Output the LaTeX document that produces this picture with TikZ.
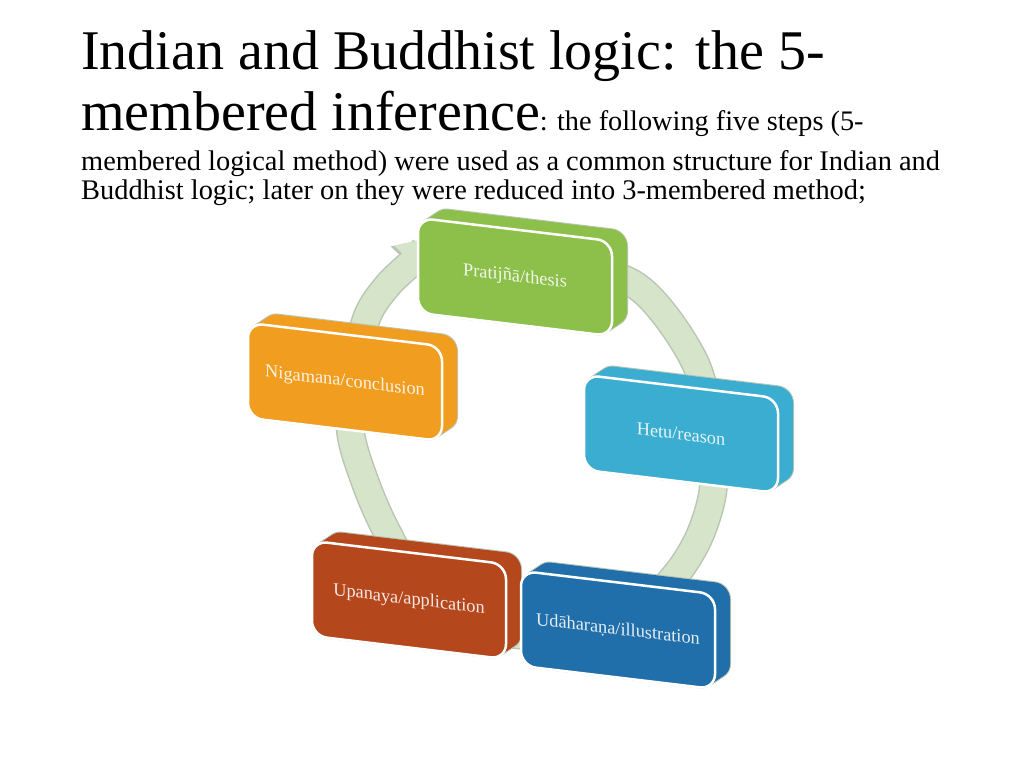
\documentclass[tikz,border=0pt]{standalone}
\usepackage{fontspec}
\setmainfont{Liberation Serif}
\usetikzlibrary{arrows.meta}

\definecolor{ringfill}{RGB}{214,228,202}
\definecolor{ringline}{RGB}{186,198,180}
\definecolor{thesisgreen}{RGB}{140,192,75}
\definecolor{reasonblue}{RGB}{58,173,208}
\definecolor{illusblue}{RGB}{32,111,171}
\definecolor{applyred}{RGB}{181,71,29}
\definecolor{concorange}{RGB}{241,157,31}

\begin{document}
\begin{tikzpicture}[x=1pt,y=-1pt,
  slab/.style={rectangle,rounded corners=15pt,minimum width=194pt,minimum height=95pt,inner sep=0pt,yslant=-0.12},
  slabrim/.style={slab,fill=#1,draw=ringline,line width=2pt},
  slabbody/.style={slab,fill=#1},
  slabface/.style={slab,fill=#1,draw=white,line width=2.5pt,text=white,text opacity=0.88,font=\fontsize{18.3}{20}\selectfont},
  headline/.style={anchor=base west,inner sep=0pt}]

\fill[white] (0,0) rectangle (1024,768);
\useasboundingbox (0,0) rectangle (1024,768);

% Titulo
\node[headline,font=\fontsize{56}{60}\selectfont] (title1) at (81,70) {Indian and Buddhist logic: the 5-};
\node[headline] (title2) at (81,130) {{\fontsize{56}{60}\selectfont membered inference}{\fontsize{28.3}{30}\selectfont: the following five steps (5-}};
\node[headline,font=\fontsize{28.4}{30}\selectfont] (body1) at (81,170) {membered logical method) were used as a common structure for Indian and};
\node[headline,font=\fontsize{28.4}{30}\selectfont] (body2) at (81,199) {Buddhist logic; later on they were reduced into 3-membered method;};

% Anel com seta
\draw[ringline,line width=29pt,-{Triangle[width=53pt,length=38pt,line width=0pt]}]
  plot[smooth] coordinates {(560,258) (630,282) (665,315) (697,367) (712,430) (713,490) (700,535) (678,572)
  (640,610) (580,630) (520,635) (460,620) (415,580) (386,530) (367,487) (351,435) (352,380) (367,317)
  (388,285) (412,262) (436,237)};
\draw[ringfill,line width=26pt,-{Triangle[width=49pt,length=35pt,line width=0pt]}]
  plot[smooth] coordinates {(560,258) (630,282) (665,315) (697,367) (712,430) (713,490) (700,535) (678,572)
  (640,610) (580,630) (520,635) (460,620) (415,580) (386,530) (367,487) (351,435) (352,380) (367,317)
  (388,285) (412,262) (436,237)};

% Nigamana/conclusion
\foreach \k in {0,...,10} \node[xshift=\k*1.5pt,yshift=\k*1pt,slabrim=concorange] at (345,382) {};
\foreach \k in {10,...,0} \node[xshift=\k*1.5pt,yshift=\k*1pt,slabbody=concorange] at (345,382) {};
\node[slabface=concorange] (conclusion) at (345,382) {Nigamana/conclusion};

% Pratijna/thesis
\foreach \k in {0,...,10} \node[xshift=\k*1.5pt,yshift=\k*1pt,slabrim=thesisgreen] at (515,277) {};
\foreach \k in {10,...,0} \node[xshift=\k*1.5pt,yshift=\k*1pt,slabbody=thesisgreen] at (515,277) {};
\node[slabface=thesisgreen] (thesis) at (515,277) {Pratijñā/thesis};

% Hetu/reason
\foreach \k in {0,...,10} \node[xshift=\k*1.5pt,yshift=\k*1pt,slabrim=reasonblue] at (681,434) {};
\foreach \k in {10,...,0} \node[xshift=\k*1.5pt,yshift=\k*1pt,slabbody=reasonblue] at (681,434) {};
\node[slabface=reasonblue] (reason) at (681,434) {Hetu/reason};

% Upanaya/application
\foreach \k in {0,...,10} \node[xshift=\k*1.5pt,yshift=\k*1pt,slabrim=applyred] at (409,600) {};
\foreach \k in {10,...,0} \node[xshift=\k*1.5pt,yshift=\k*1pt,slabbody=applyred] at (409,600) {};
\node[slabface=applyred] (application) at (409,600) {Upanaya/application};

% Udaharana/illustration
\foreach \k in {0,...,10} \node[xshift=\k*1.5pt,yshift=\k*1pt,slabrim=illusblue] at (618,630) {};
\foreach \k in {10,...,0} \node[xshift=\k*1.5pt,yshift=\k*1pt,slabbody=illusblue] at (618,630) {};
\node[slabface=illusblue] (illustration) at (618,630) {Udāharaṇa/illustration};

\end{tikzpicture}
\end{document}
